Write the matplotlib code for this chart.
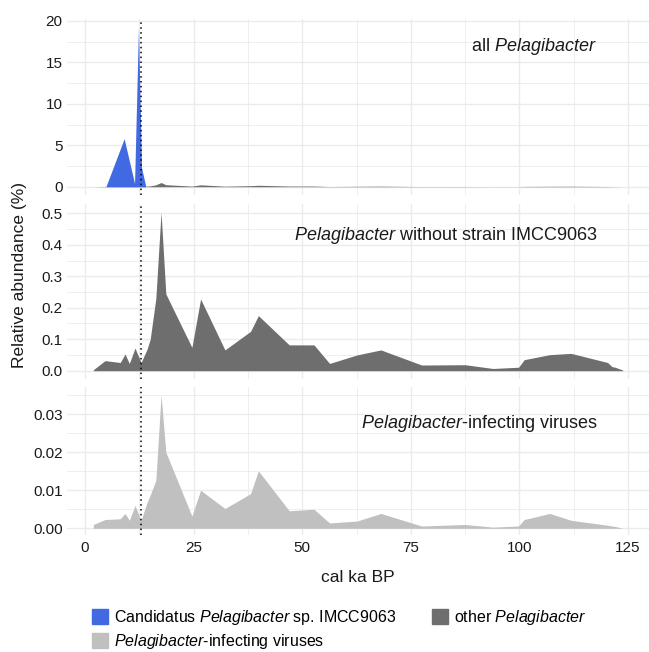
import matplotlib.pyplot as plt
from matplotlib import patches
import numpy as np

# ages (cal ka BP) and relative abundances (%)
age = [1.9, 4.6, 8.1, 9.2, 10.2, 11.5, 12.9, 14.3, 15.0, 16.3, 17.5, 18.6, 24.6, 26.6, 32.2,
       38.1, 39.9, 47.0, 52.7, 56.3, 62.6, 68.1, 77.5, 87.5, 93.9, 99.8, 101.1, 107.0, 111.9,
       120.3, 121.3, 122.0, 123.8]
other_pelagibacter = [0.003, 0.032, 0.026, 0.053, 0.023, 0.072, 0.026, 0.069, 0.10, 0.23, 0.504,
                      0.244, 0.074, 0.228, 0.066, 0.125, 0.175, 0.082, 0.082, 0.023, 0.050, 0.066,
                      0.018, 0.019, 0.007, 0.011, 0.035, 0.051, 0.055, 0.026, 0.013, 0.011, 0.002]
viruses = [0.0010, 0.0023, 0.0025, 0.0039, 0.0021, 0.0060, 0.0021, 0.0069, 0.0087, 0.0126, 0.0350,
           0.0200, 0.0032, 0.0100, 0.0052, 0.0091, 0.0151, 0.0046, 0.0050, 0.0014, 0.0019, 0.0039,
           0.0006, 0.0010, 0.0003, 0.0006, 0.0023, 0.0039, 0.0021, 0.0008, 0.0006, 0.0005, 0.0]
imcc_age = [4.8, 9.0, 11.4, 12.3, 13.0, 14.0]
imcc9063 = [0.0, 5.8, 0.4, 19.3, 2.3, 0.0]

younger_dryas = 12.9

c_imcc = '#4169E1'
c_other = '#6E6E6E'
c_vir = '#C0C0C0'
c_grid = '#EBEBEB'
c_text = '#1A1A1A'

plt.rcParams['font.family'] = ['Liberation Sans', 'DejaVu Sans']
plt.rcParams['mathtext.fontset'] = 'custom'
plt.rcParams['mathtext.rm'] = 'Liberation Sans'
plt.rcParams['mathtext.it'] = 'Liberation Sans:italic'

W, H = 649, 652
fig = plt.figure(figsize=(W/100, H/100), dpi=100)

def px_axes(top, bottom, left=66.8, right=649.3):
    return fig.add_axes([left/W, 1-bottom/H, (right-left)/W, (bottom-top)/H])

def style(ax, ylim, major, minor, fmt):
    ax.set_xlim(-4.2, 129.9)
    ax.set_ylim(*ylim)
    ax.set_xticks([0, 25, 50, 75, 100, 125])
    ax.set_xticks([12.5, 37.5, 62.5, 87.5, 112.5], minor=True)
    ax.set_yticks(major)
    ax.set_yticks(minor, minor=True)
    ax.set_yticklabels([fmt.format(v) for v in major])
    ax.grid(True, which='major', color=c_grid, lw=1.0)
    ax.grid(True, which='minor', color=c_grid, lw=0.6)
    ax.set_axisbelow(True)
    for s in ax.spines.values():
        s.set_visible(False)
    ax.tick_params(which='both', length=0, labelsize=11, labelcolor=c_text, pad=3)
    ax.axvline(younger_dryas, color='black', ls=(0, (1, 2.2)), lw=1.1, zorder=5)

ax1 = px_axes(19, 195)
ax1.fill_between(age, 0, other_pelagibacter, color=c_other, lw=0)
ax1.fill_between(imcc_age, 0, imcc9063, color=c_imcc, lw=0)
style(ax1, (-1.0, 20.24), [0, 5, 10, 15, 20], [2.5, 7.5, 12.5, 17.5], '{:g}')
ax1.set_xticklabels([])
ax1.text(117.9, 16.9, 'all $\\mathit{Pelagibacter}$', ha='right', va='center', fontsize=13, color=c_text)

ax2 = px_axes(204, 379)
ax2.fill_between(age, 0, other_pelagibacter, color=c_other, lw=0)
style(ax2, (-0.0264, 0.5296), [0, 0.1, 0.2, 0.3, 0.4, 0.5], [0.05, 0.15, 0.25, 0.35, 0.45], '{:.1f}')
ax2.set_xticklabels([])
ax2.text(117.9, 0.429, '$\\mathit{Pelagibacter}$ without strain IMCC9063', ha='right', va='center',
         fontsize=13, color=c_text)

ax3 = px_axes(387, 535)
ax3.fill_between(age, 0, viruses, color=c_vir, lw=0)
style(ax3, (-0.00176, 0.0371), [0, 0.01, 0.02, 0.03], [0.005, 0.015, 0.025, 0.035], '{:.2f}')
ax3.tick_params(axis='x', pad=4)
ax3.text(117.9, 0.0274, '$\\mathit{Pelagibacter}$-infecting viruses', ha='right', va='center',
         fontsize=13, color=c_text)

fig.text(358/W, 1-577/H, 'cal ka BP', ha='center', va='center', fontsize=12.5, color=c_text)
fig.text(20/W, 1-275/H, 'Relative abundance (%)', ha='center', va='center', rotation=90,
         fontsize=12.5, color=c_text)

handles = [patches.Patch(color=c_imcc), patches.Patch(color=c_vir), patches.Patch(color=c_other)]
labels = ['Candidatus $\\mathit{Pelagibacter}$ sp. IMCC9063',
          '$\\mathit{Pelagibacter}$-infecting viruses',
          'other $\\mathit{Pelagibacter}$']
fig.legend(handles, labels, ncol=2, loc='upper left', bbox_to_anchor=(92/W, 1-608/H),
           frameon=False, fontsize=11.5, handlelength=1.0, handleheight=1.0,
           handletextpad=0.4, columnspacing=2.2, labelspacing=0.32, borderpad=0,
           borderaxespad=0)

fig.savefig('out.png', dpi=100)
